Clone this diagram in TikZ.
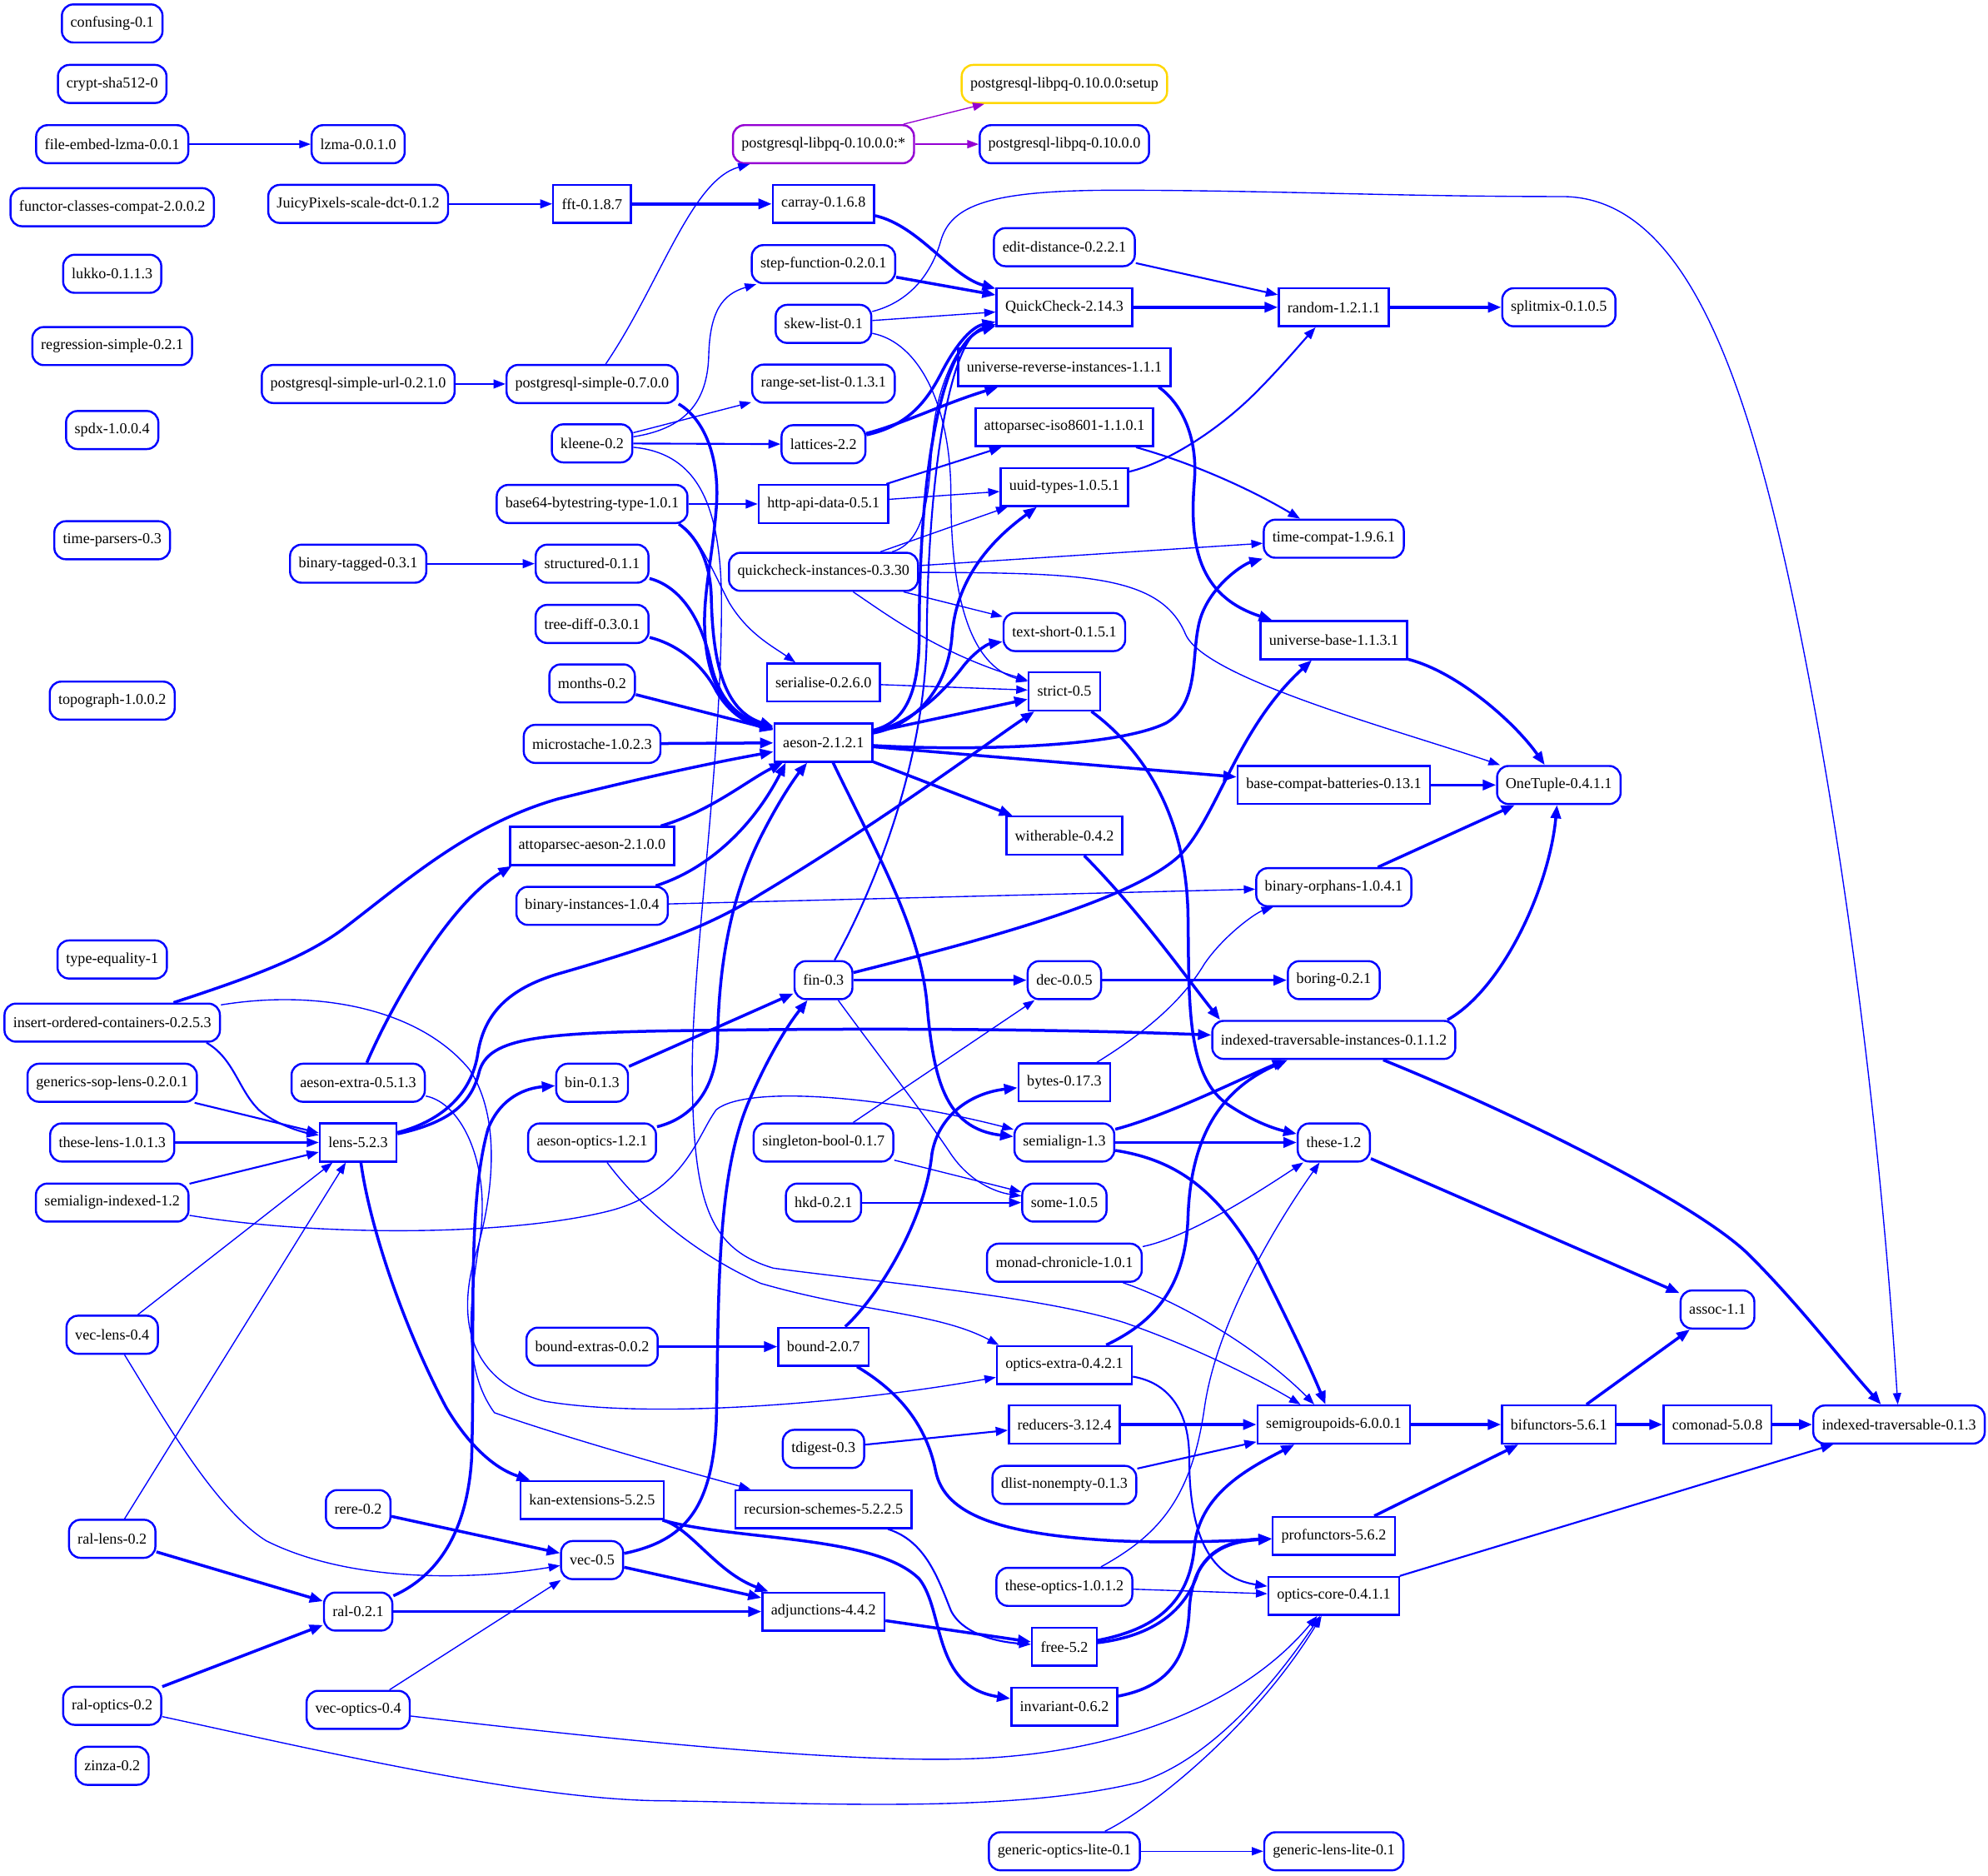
\documentclass[tikz,border=0pt]{standalone}
\usepackage{fontspec}
\setmainfont{Liberation Serif}
\usetikzlibrary{arrows.meta}
\definecolor{gvblue}{RGB}{0,0,255}
\definecolor{gvpurple}{RGB}{148,0,211}
\definecolor{gvgold}{RGB}{255,215,0}
\begin{document}
\begin{tikzpicture}[x=1pt,y=-1pt,
 nd/.style={draw=gvblue, line width=1.6pt, rounded corners=9pt, minimum height=30pt, inner xsep=6.8pt, inner ysep=0pt, font=\fontsize{11.9}{13}\selectfont, text=black, anchor=center},
 bx/.style={nd, rounded corners=0pt},
 edgethin/.style={draw=gvblue, line width=0.9pt, -{Triangle[length=9pt,width=6.5pt]}},
 edgemed/.style={draw=gvblue, line width=1.4pt, -{Triangle[length=9.5pt,width=7pt]}},
 edgethick/.style={draw=gvblue, line width=2.3pt, -{Triangle[length=10.5pt,width=8pt]}},
 edgepurple/.style={draw=gvpurple, line width=0.9pt, -{Triangle[length=9pt,width=6.5pt]}},
]
\useasboundingbox (0,0) rectangle (1568,1479);
% column 1
\node[nd] (confusing) at (88.5,18.5) {confusing-0.1};
\node[nd] (crypt) at (88.5,66.2) {crypt-sha512-0};
\node[nd] (fel) at (88.5,113.7) {file-embed-lzma-0.0.1};
\node[nd] (fcc) at (88.5,163.4) {functor-classes-compat-2.0.0.2};
\node[nd] (lukko) at (88.5,215.9) {lukko-0.1.1.3};
\node[nd] (regr) at (88.5,272.9) {regression-simple-0.2.1};
\node[nd] (spdx) at (88.5,339.1) {spdx-1.0.0.4};
\node[nd] (timeparsers) at (88.5,426) {time-parsers-0.3};
\node[nd] (topograph) at (88.5,552.5) {topograph-1.0.0.2};
\node[nd] (typeeq) at (88.5,756.6) {type-equality-1};
\node[nd] (ioc) at (88.5,806.4) {insert-ordered-containers-0.2.5.3};
\node[nd] (gsl) at (88.5,853.8) {generics-sop-lens-0.2.0.1};
\node[nd] (theselens) at (88.5,900.9) {these-lens-1.0.1.3};
\node[nd] (semidx) at (88.5,948.3) {semialign-indexed-1.2};
\node[nd] (veclens) at (88.5,1052.5) {vec-lens-0.4};
\node[nd] (rallens) at (88.5,1213.4) {ral-lens-0.2};
\node[nd] (raloptics) at (88.5,1345.1) {ral-optics-0.2};
\node[nd] (zinza) at (88.5,1392.4) {zinza-0.2};
% column 2
\node[nd] (lzma) at (282.5,113.7) {lzma-0.0.1.0};
\node[nd] (juicy) at (282.5,160.8) {JuicyPixels-scale-dct-0.1.2};
\node[nd] (pgurl) at (282.5,302.8) {postgresql-simple-url-0.2.1.0};
\node[nd] (bintagged) at (282.5,444.5) {binary-tagged-0.3.1};
\node[nd] (aesonextra) at (282.5,853.8) {aeson-extra-0.5.1.3};
\node[bx] (lens) at (282.5,900.9) {lens-5.2.3};
\node[nd] (rere) at (282.5,1190) {rere-0.2};
\node[nd] (ral) at (282.5,1270.8) {ral-0.2.1};
\node[nd] (vecoptics) at (282.5,1348.3) {vec-optics-0.4};
% column 3
\node[bx] (fft) at (467,160.8) {fft-0.1.8.7};
\node[nd] (pgsimple) at (467,302.8) {postgresql-simple-0.7.0.0};
\node[nd] (kleene) at (467,349.6) {kleene-0.2};
\node[nd] (base64) at (467,397.4) {base64-bytestring-type-1.0.1};
\node[nd] (structured) at (467,444.5) {structured-0.1.1};
\node[nd] (treediff) at (467,492) {tree-diff-0.3.0.1};
\node[nd] (months) at (467,538.9) {months-0.2};
\node[nd] (microstache) at (467,586.6) {microstache-1.0.2.3};
\node[bx] (attoaeson) at (467,667.1) {attoparsec-aeson-2.1.0.0};
\node[nd] (bininst) at (467,714.3) {binary-instances-1.0.4};
\node[nd] (bin) at (467,853.8) {bin-0.1.3};
\node[nd] (aesonoptics) at (467,900.9) {aeson-optics-1.2.1};
\node[nd] (boundextras) at (467,1061.9) {bound-extras-0.0.2};
\node[bx] (kan) at (467,1182.9) {kan-extensions-5.2.5};
\node[nd] (vec) at (467,1230.2) {vec-0.5};
% column 4
\node[nd, draw=gvpurple] (libpqstar) at (649.5,113.7) {postgresql-libpq-0.10.0.0:*};
\node[bx] (carray) at (649.5,160.8) {carray-0.1.6.8};
\node[nd] (stepfn) at (649.5,208.3) {step-function-0.2.0.1};
\node[nd] (skew) at (649.5,255.4) {skew-list-0.1};
\node[nd] (rangeset) at (649.5,302.5) {range-set-list-0.1.3.1};
\node[nd] (lattices) at (649.5,350.3) {lattices-2.2};
\node[bx] (httpapi) at (649.5,397.4) {http-api-data-0.5.1};
\node[nd] (qci) at (649.5,450.9) {quickcheck-instances-0.3.30};
\node[bx] (serialise) at (649.5,538.2) {serialise-0.2.6.0};
\node[bx] (aeson) at (649.5,585.6) {aeson-2.1.2.1};
\node[nd] (fin) at (649.5,772.9) {fin-0.3};
\node[nd] (singbool) at (649.5,900.9) {singleton-bool-0.1.7};
\node[nd] (hkd) at (649.5,948.3) {hkd-0.2.1};
\node[bx] (bound) at (649.5,1061.9) {bound-2.0.7};
\node[nd] (tdigest) at (649.5,1142.5) {tdigest-0.3};
\node[bx] (recschemes) at (649.5,1190) {recursion-schemes-5.2.2.5};
\node[bx] (adjunctions) at (649.5,1270.8) {adjunctions-4.4.2};
% column 5
\node[nd, draw=gvgold] (libpqsetup) at (839.5,66.2) {postgresql-libpq-0.10.0.0:setup};
\node[nd] (libpq) at (839.5,113.7) {postgresql-libpq-0.10.0.0};
\node[nd] (editdist) at (839.5,194.9) {edit-distance-0.2.2.1};
\node[bx] (quickcheck) at (839.5,242.3) {QuickCheck-2.14.3};
\node[bx] (uri) at (839.5,289.4) {universe-reverse-instances-1.1.1};
\node[bx] (attoiso) at (839.5,336.9) {attoparsec-iso8601-1.1.0.1};
\node[bx] (uuid) at (839.5,384) {uuid-types-1.0.5.1};
\node[nd] (textshort) at (839.5,498.4) {text-short-0.1.5.1};
\node[bx] (strict) at (839.5,545.2) {strict-0.5};
\node[bx] (witherable) at (839.5,658.9) {witherable-0.4.2};
\node[nd] (dec) at (839.5,772.9) {dec-0.0.5};
\node[bx] (bytes) at (839.5,853.5) {bytes-0.17.3};
\node[nd] (semialign) at (839.5,900.9) {semialign-1.3};
\node[nd] (some) at (839.5,948.3) {some-1.0.5};
\node[nd] (monadchron) at (839.5,995.7) {monad-chronicle-1.0.1};
\node[bx] (opticsextra) at (839.5,1076.4) {optics-extra-0.4.2.1};
\node[bx] (reducers) at (839.5,1123.3) {reducers-3.12.4};
\node[nd] (dlist) at (839.5,1170.9) {dlist-nonempty-0.1.3};
\node[nd] (theseoptics) at (839.5,1251.3) {these-optics-1.0.1.2};
\node[bx] (free) at (839.5,1298.5) {free-5.2};
\node[bx] (invariant) at (839.5,1345.8) {invariant-0.6.2};
\node[nd] (genopt) at (839.5,1459.8) {generic-optics-lite-0.1};
% column 6
\node[bx] (random) at (1052,242.3) {random-1.2.1.1};
\node[nd] (timecompat) at (1052,424.8) {time-compat-1.9.6.1};
\node[bx] (unibase) at (1052,504.8) {universe-base-1.1.3.1};
\node[bx] (bcb) at (1052,619) {base-compat-batteries-0.13.1};
\node[nd] (binorph) at (1052,699.6) {binary-orphans-1.0.4.1};
\node[nd] (boring) at (1052,772.9) {boring-0.2.1};
\node[nd] (iti) at (1052,820) {indexed-traversable-instances-0.1.1.2};
\node[nd] (these) at (1052,900.9) {these-1.2};
\node[bx] (semigroupoids) at (1052,1123.3) {semigroupoids-6.0.0.1};
\node[bx] (profunctors) at (1052,1211.2) {profunctors-5.6.2};
\node[bx] (opticscore) at (1052,1258.5) {optics-core-0.4.1.1};
\node[nd] (genlens) at (1052,1459.8) {generic-lens-lite-0.1};
% columns 7-9
\node[nd] (splitmix) at (1229.5,242.3) {splitmix-0.1.0.5};
\node[nd] (onetuple) at (1229.5,619) {OneTuple-0.4.1.1};
\node[bx] (bifunctors) at (1229.5,1123.3) {bifunctors-5.6.1};
\node[nd] (assoc) at (1354.6,1032.6) {assoc-1.1};
\node[bx] (comonad) at (1354.6,1123.3) {comonad-5.0.8};
\node[nd] (idxtrav) at (1497.8,1123.3) {indexed-traversable-0.1.3};

% ---- edges ----
\draw[edgethin] (fel) -- (lzma);
\draw[edgemed] (juicy) -- (fft);
\draw[edgethick] (fft) -- (carray);
\draw[edgethick] (carray) .. controls (725,178) and (750,218) .. (quickcheck);
\draw[edgepurple] (libpqstar) -- (libpqsetup);
\draw[edgepurple] (libpqstar) -- (libpq);
\draw[edgethin] (pgsimple) .. controls (520,225) and (545,142) .. (libpqstar);
\draw[edgemed] (pgurl) -- (pgsimple);
\draw[edgethick] (pgsimple.-13) .. controls (555,330) and (568,360) .. (565,400) .. controls (562,440) and (554,470) .. (556,500) .. controls (558,540) and (575,565) .. (aeson);
\draw[edgethick] (stepfn) -- (quickcheck);
\draw[edgethin] (skew) -- (quickcheck);
\draw[edgethin] (skew) .. controls (725,270) and (750,320) .. (750,390) .. controls (750,470) and (765,525) .. (strict);
\draw[edgethin] (skew) .. controls (718,238) and (735,215) .. (742,190) .. controls (750,162) and (780,150) .. (880,150) .. controls (1000,150) and (1100,155) .. (1232,155) .. controls (1330,155) and (1380,300) .. (1420,500) .. controls (1460,700) and (1485,920) .. (idxtrav);
\draw[edgemed] (editdist) -- (random);
\draw[edgethick] (quickcheck) -- (random);
\draw[edgethick] (random) -- (splitmix);
\draw[edgethin] (kleene) .. controls (540,338) and (558,318) .. (559,280) .. controls (560,245) and (570,232) .. (stepfn);
\draw[edgethin] (kleene) -- (rangeset);
\draw[edgemed] (kleene) -- (lattices);
\draw[edgethin] (kleene) .. controls (545,357) and (568,390) .. (569,470) .. controls (570,600) and (545,760) .. (546,850) .. controls (547,950) and (560,985) .. (610,1000) .. controls (700,1012) and (820,1022) .. (887,1043) .. controls (950,1065) and (1000,1092) .. (semigroupoids);
\draw[edgemed] (base64) -- (httpapi);
\draw[edgethick] (base64.-13) .. controls (548,422) and (560,440) .. (561,470) .. controls (562,520) and (570,560) .. (aeson);
\draw[edgethin] (base64.-13) .. controls (550,420) and (562,450) .. (575,475) .. controls (590,500) and (610,510) .. (serialise);
\draw[edgethick] (lattices) .. controls (715,336) and (730,318) .. (742,295) .. controls (752,275) and (765,258) .. (quickcheck);
\draw[edgethick] (lattices) .. controls (710,335) and (745,318) .. (uri);
\draw[edgethick] (uri.-12) .. controls (932,318) and (945,345) .. (942,380) .. controls (938,430) and (945,470) .. (unibase);
\draw[edgemed] (attoiso) .. controls (940,365) and (985,385) .. (timecompat);
\draw[edgemed] (httpapi) -- (attoiso);
\draw[edgethin] (httpapi) -- (uuid);
\draw[edgemed] (uuid) .. controls (920,365) and (960,340) .. (990,310) .. controls (1010,290) and (1025,272) .. (random);
\draw[edgethin] (qci) -- (uuid);
\draw[edgethin] (qci) .. controls (728,428) and (733,395) .. (735,350) .. controls (738,300) and (760,262) .. (quickcheck);
\draw[edgethin] (qci) -- (timecompat);
\draw[edgethin] (qci) -- (textshort);
\draw[edgethin] (qci) .. controls (700,485) and (740,515) .. (strict);
\draw[edgethin] (qci) .. controls (850,452) and (915,452) .. (935,500) .. controls (950,535) and (1100,575) .. (onetuple);
\draw[edgethin] (serialise) -- (strict);
% aeson out
\draw[edgethick] (aeson) .. controls (712,570) and (725,550) .. (725,500) .. controls (725,360) and (745,268) .. (quickcheck);
\draw[edgethick] (aeson) .. controls (720,572) and (748,545) .. (751,500) .. controls (755,450) and (790,420) .. (uuid);
\draw[edgethick] (aeson) .. controls (720,570) and (745,545) .. (760,525) .. controls (768,515) and (778,508) .. (textshort);
\draw[edgethick] (aeson) -- (strict);
\draw[edgethick] (aeson) .. controls (760,592) and (880,590) .. (920,570) .. controls (945,555) and (940,520) .. (945,495) .. controls (950,465) and (980,445) .. (timecompat);
\draw[edgethick] (aeson) -- (bcb);
\draw[edgethick] (aeson) -- (witherable);
\draw[edgethick] (aeson) .. controls (690,670) and (725,730) .. (731,790) .. controls (736,850) and (745,890) .. (semialign);
% aeson in
\draw[edgethick] (structured) .. controls (535,462) and (552,485) .. (560,520) .. controls (566,550) and (580,565) .. (aeson);
\draw[edgethick] (treediff) .. controls (535,508) and (555,525) .. (565,545) .. controls (575,562) and (588,570) .. (aeson);
\draw[edgethick] (months) -- (aeson);
\draw[edgethick] (microstache) -- (aeson);
\draw[edgethick] (attoaeson) .. controls (560,640) and (590,615) .. (aeson);
\draw[edgethick] (bininst) .. controls (560,685) and (595,650) .. (aeson.208);
\draw[edgethick] (ioc) .. controls (200,770) and (240,755) .. (270,733) .. controls (320,695) and (370,650) .. (440,630) .. controls (520,610) and (570,600) .. (aeson);
\draw[edgethick] (aesonoptics) .. controls (545,882) and (565,860) .. (566,820) .. controls (567,750) and (580,700) .. (600,660) .. controls (615,630) and (628,612) .. (aeson);
% right part
\draw[edgethick] (unibase) .. controls (1150,530) and (1195,570) .. (onetuple);
\draw[edgethick] (bcb) -- (onetuple);
\draw[edgethick] (binorph) -- (onetuple);
\draw[edgethick] (iti.10) .. controls (1185,780) and (1222,700) .. (onetuple);
\draw[edgethick] (iti) .. controls (1200,880) and (1340,950) .. (1380,990) .. controls (1420,1030) and (1450,1070) .. (idxtrav);
\draw[edgethick] (witherable) .. controls (900,720) and (935,770) .. (iti.170);
\draw[edgethick] (strict) .. controls (900,590) and (935,640) .. (937,720) .. controls (938,790) and (935,850) .. (970,872) .. controls (990,885) and (1005,890) .. (these);
\draw[edgethin] (bininst) -- (binorph);
% lens and left side
\draw[edgethick] (lens) .. controls (355,885) and (372,870) .. (378,845) .. controls (385,820) and (420,815) .. (520,813) .. controls (700,810) and (850,812) .. (iti);
\draw[edgethick] (lens) .. controls (345,885) and (372,865) .. (377,830) .. controls (382,800) and (400,780) .. (440,768) .. controls (520,745) and (560,730) .. (600,705) .. controls (700,645) and (780,585) .. (strict);
\draw[edgethick] (lens) .. controls (292,970) and (320,1050) .. (352,1110) .. controls (370,1140) and (390,1158) .. (kan);
\draw[edgemed] (ioc.-12) .. controls (185,835) and (188,860) .. (205,876) .. controls (220,888) and (240,893) .. (lens);
\draw[edgethin] (ioc) .. controls (250,780) and (330,795) .. (370,843) .. controls (395,880) and (390,940) .. (375,990) .. controls (360,1040) and (370,1090) .. (430,1105) .. controls (520,1120) and (680,1105) .. (opticsextra);
\draw[edgemed] (gsl) -- (lens);
\draw[edgemed] (theselens) -- (lens);
\draw[edgemed] (semidx) -- (lens);
\draw[edgethin] (semidx) .. controls (250,975) and (400,975) .. (480,955) .. controls (540,940) and (550,895) .. (565,875) .. controls (590,855) and (700,865) .. (semialign);
\draw[edgethin] (veclens) -- (lens);
\draw[edgethin] (rallens) -- (lens);
\draw[edgethick] (rallens) -- (ral);
\draw[edgethick] (raloptics) -- (ral);
\draw[edgethin] (raloptics) .. controls (250,1380) and (420,1420) .. (525,1420) .. controls (650,1422) and (800,1430) .. (900,1405) .. controls (960,1385) and (1010,1320) .. (opticscore);
\draw[edgethin] (vecoptics) -- (vec);
\draw[edgethin] (vecoptics) .. controls (450,1368) and (650,1390) .. (760,1387) .. controls (880,1384) and (980,1345) .. (opticscore);
\draw[edgethin] (genopt) .. controls (910,1425) and (990,1360) .. (opticscore);
\draw[edgethin] (genopt) -- (genlens);
\draw[edgethick] (aesonextra) .. controls (310,790) and (355,712) .. (attoaeson.194);
\draw[edgethin] (aesonextra) .. controls (365,870) and (388,920) .. (378,980) .. controls (370,1030) and (365,1080) .. (390,1114) .. controls (450,1135) and (540,1160) .. (recschemes);
\draw[edgethick] (bin) -- (fin);
\draw[edgethick] (vec) .. controls (540,1215) and (562,1190) .. (565,1120) .. controls (567,1020) and (565,930) .. (590,870) .. controls (605,835) and (620,810) .. (fin);
\draw[edgethick] (vec) -- (adjunctions);
\draw[edgethick] (rere) -- (vec);
\draw[edgethin] (veclens) .. controls (130,1120) and (170,1190) .. (210,1215) .. controls (280,1250) and (380,1245) .. (vec);
\draw[edgethick] (ral) .. controls (340,1245) and (368,1215) .. (372,1150) .. controls (375,1050) and (368,950) .. (385,890) .. controls (395,865) and (415,858) .. (bin);
\draw[edgethick] (ral) -- (adjunctions);
\draw[edgethick] (kan) .. controls (545,1205) and (565,1240) .. (adjunctions);
\draw[edgethick] (kan) .. controls (580,1215) and (690,1210) .. (725,1245) .. controls (745,1270) and (735,1330) .. (invariant);
\draw[edgethick] (adjunctions) -- (free);
\draw[edgemed] (recschemes) .. controls (730,1215) and (740,1245) .. (750,1270) .. controls (760,1290) and (790,1295) .. (free);
\draw[edgethick] (free) .. controls (910,1285) and (938,1265) .. (942,1220) .. controls (946,1180) and (980,1160) .. (semigroupoids);
\draw[edgethick] (free) .. controls (910,1290) and (935,1270) .. (945,1240) .. controls (955,1220) and (975,1215) .. (profunctors);
\draw[edgethick] (invariant) .. controls (920,1330) and (936,1310) .. (938,1270) .. controls (940,1230) and (960,1215) .. (profunctors);
\draw[edgethick] (bound) .. controls (695,1020) and (730,960) .. (735,910) .. controls (740,880) and (765,862) .. (bytes);
\draw[edgethick] (bound) .. controls (705,1095) and (730,1120) .. (738,1160) .. controls (745,1195) and (790,1210) .. (880,1215) .. controls (930,1217) and (970,1215) .. (profunctors);
\draw[edgethick] (boundextras) -- (bound);
\draw[edgethick] (opticsextra) .. controls (905,1045) and (935,1020) .. (937,960) .. controls (939,900) and (960,860) .. (iti);
\draw[edgemed] (opticsextra) .. controls (920,1090) and (938,1110) .. (938,1150) .. controls (938,1220) and (960,1245) .. (opticscore);
\draw[edgemed] (tdigest) -- (reducers);
\draw[edgethick] (reducers) -- (semigroupoids);
\draw[edgemed] (dlist) -- (semigroupoids);
\draw[edgethin] (monadchron) .. controls (940,975) and (1000,935) .. (these);
\draw[edgethin] (monadchron) .. controls (940,1030) and (1000,1070) .. (semigroupoids);
\draw[edgethin] (theseoptics) .. controls (915,1210) and (940,1180) .. (950,1110) .. controls (960,1040) and (1010,960) .. (these);
\draw[edgethin] (theseoptics) -- (opticscore);
\draw[edgethick] (semialign) -- (these);
\draw[edgethick] (semialign) .. controls (920,880) and (980,850) .. (iti);
\draw[edgethick] (semialign) .. controls (930,915) and (960,940) .. (990,990) .. controls (1010,1030) and (1030,1070) .. (semigroupoids);
\draw[edgethick] (these) -- (assoc);
\draw[edgethick] (semigroupoids) -- (bifunctors);
\draw[edgethick] (profunctors) -- (bifunctors);
\draw[edgethick] (bifunctors) -- (assoc);
\draw[edgethick] (bifunctors) -- (comonad);
\draw[edgethick] (comonad) -- (idxtrav);
\draw[edgemed] (opticscore) -- (idxtrav);
\draw[edgethick] (fin) -- (dec);
\draw[edgethick] (fin) .. controls (760,745) and (890,712) .. (930,675) .. controls (960,645) and (975,575) .. (unibase);
\draw[edgemed] (fin) .. controls (690,700) and (730,600) .. (731,500) .. controls (732,380) and (748,265) .. (quickcheck);
\draw[edgethin] (fin) .. controls (695,835) and (730,880) .. (750,910) .. controls (765,932) and (785,940) .. (some);
\draw[edgethin] (singbool) -- (dec);
\draw[edgethin] (singbool) -- (some);
\draw[edgemed] (hkd) -- (some);
\draw[edgethick] (dec) -- (boring);
\draw[edgethin] (bytes) .. controls (910,810) and (935,785) .. (950,760) .. controls (965,738) and (990,720) .. (binorph);
\draw[edgethin] (aesonoptics) .. controls (500,945) and (540,985) .. (600,1012) .. controls (680,1035) and (740,1035) .. (opticsextra.163);
\draw[edgemed] (bintagged) -- (structured);
\end{tikzpicture}
\end{document}
